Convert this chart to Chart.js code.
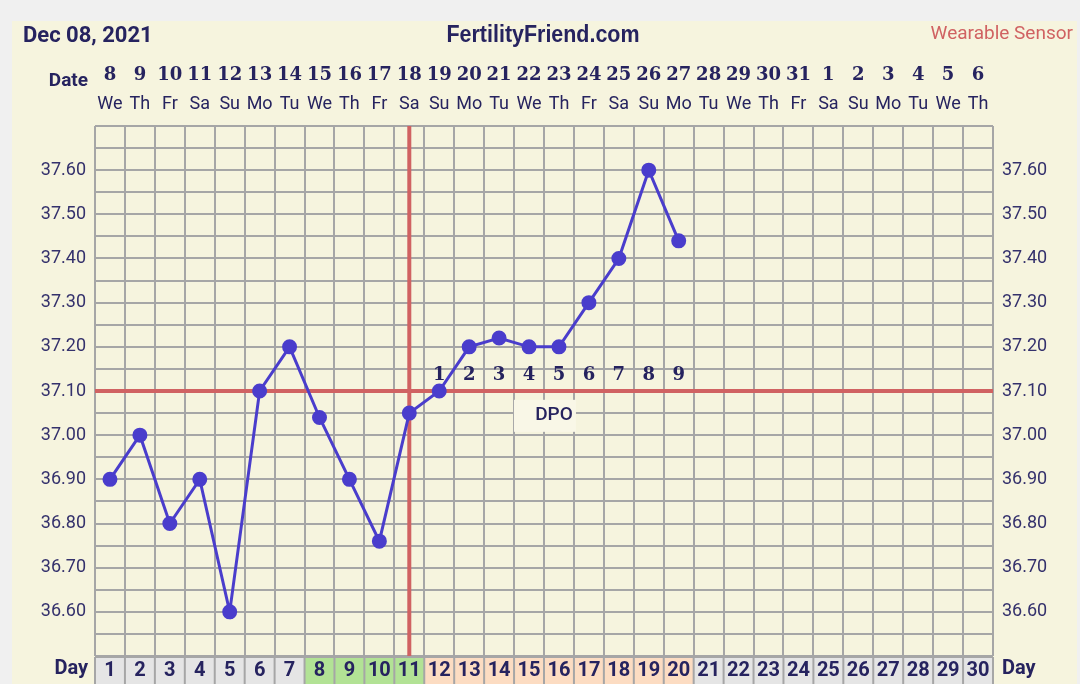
<!DOCTYPE html>
<html>
<head>
<meta charset="utf-8">
<script src="https://cdn.jsdelivr.net/npm/chart.js"></script>
<style>
  html, body { margin: 0; padding: 0; background: #f0f0f0; }
  canvas { display: block; }
</style>
</head>
<body>
<canvas id="bbt" width="1080" height="684"></canvas>
<script>
// cycle days, calendar dates and weekdays shown along the chart
const cycleDays = ['1','2','3','4','5','6','7','8','9','10','11','12','13','14','15',
  '16','17','18','19','20','21','22','23','24','25','26','27','28','29','30'];
const dateLabels = ['8','9','10','11','12','13','14','15','16','17','18','19','20','21','22',
  '23','24','25','26','27','28','29','30','31','1','2','3','4','5','6'];
const weekdays = ['We','Th','Fr','Sa','Su','Mo','Tu','We','Th','Fr','Sa','Su','Mo','Tu','We',
  'Th','Fr','Sa','Su','Mo','Tu','We','Th','Fr','Sa','Su','Mo','Tu','We','Th'];

// temperatures (°C), days 1-20
const temps = [36.90, 37.00, 36.80, 36.90, 36.60, 37.10, 37.20, 37.04, 36.90, 36.76,
  37.05, 37.10, 37.20, 37.22, 37.20, 37.20, 37.30, 37.40, 37.60, 37.44];

const coverline = 37.10;
const ovulationDay = '11';
const dpoDays = ['12','13','14','15','16','17','18','19','20'];
const dpoLabels = ['1','2','3','4','5','6','7','8','9'];
const fertileDays = ['8','9','10','11'];
const lutealDays = ['12','13','14','15','16','17','18','19','20'];

const tempMin = 36.5;
const tempMax = 37.7;

const INK = '#26235f';
const RED = '#d06262';
const GRID = '#a6a6a6';
const CREAM = '#f6f4de';

function tempLabel(value) {
  const v = Math.round(value * 100);
  const lo = Math.round(tempMin * 100), hi = Math.round(tempMax * 100);
  if (v % 10 !== 0 || v <= lo || v >= hi) return '';
  return (v / 100).toFixed(2);
}

const decorPlugin = {
  id: 'decor',
  beforeDraw(chart) {
    const ctx = chart.ctx;
    ctx.save();
    ctx.fillStyle = '#f0f0f0';
    ctx.fillRect(0, 0, chart.width, chart.height);
    ctx.fillStyle = CREAM;
    ctx.fillRect(12, 21, 1065, chart.height - 21);
    ctx.restore();
  },
  beforeDatasetsDraw(chart) {
    const { ctx, chartArea: a, scales } = chart;
    const x = scales.x, y = scales.y;
    ctx.save();

    // DPO box
    const dpoX = x.getPixelForValue(15) - 5;
    ctx.fillStyle = '#f9f7e7';
    ctx.fillRect(dpoX - 40, y.getPixelForValue(37.08), 62, 32);
    ctx.fillStyle = INK;
    ctx.font = '500 19px Roboto';
    ctx.textAlign = 'center';
    ctx.textBaseline = 'middle';
    ctx.fillText('DPO', dpoX, y.getPixelForValue(37.045));

    // coverline
    ctx.strokeStyle = RED;
    ctx.lineWidth = 4;
    const cy = y.getPixelForValue(coverline);
    ctx.beginPath();
    ctx.moveTo(a.left, cy);
    ctx.lineTo(a.right, cy);
    ctx.stroke();

    // ovulation line
    const ox = x.getPixelForValue(cycleDays.indexOf(ovulationDay));
    ctx.beginPath();
    ctx.moveTo(ox, a.top);
    ctx.lineTo(ox, a.bottom);
    ctx.stroke();

    // DPO numbers
    ctx.fillStyle = INK;
    ctx.font = 'bold 18px "DejaVu Serif"';
    dpoDays.forEach((d, i) => {
      ctx.fillText(dpoLabels[i], x.getPixelForValue(cycleDays.indexOf(d)), cy - 16);
    });
    ctx.restore();
  },
  afterDraw(chart) {
    const { ctx, chartArea: a, scales } = chart;
    const x = scales.x;
    ctx.save();
    ctx.textAlign = 'center';
    ctx.textBaseline = 'middle';

    // header
    ctx.fillStyle = INK;
    ctx.font = 'bold 22px Roboto';
    ctx.textAlign = 'left';
    ctx.fillText('Dec 08, 2021', 23, 36);
    ctx.font = 'bold 23px "Liberation Sans"';
    ctx.textAlign = 'center';
    ctx.fillText('FertilityFriend.com', 543, 36, 193);
    ctx.fillStyle = RED;
    ctx.font = '19px Roboto';
    ctx.textAlign = 'right';
    ctx.fillText('Wearable Sensor', 1073, 34);

    // date rows
    ctx.fillStyle = INK;
    ctx.font = 'bold 19px Roboto';
    ctx.fillText('Date', 88, 81, 42);
    ctx.textAlign = 'center';
    cycleDays.forEach((d, i) => {
      const px = x.getPixelForValue(i);
      ctx.font = 'bold 18px "DejaVu Serif"';
      ctx.fillText(dateLabels[i], px, 75, 28);
      ctx.font = '18px Roboto';
      ctx.fillText(weekdays[i], px, 104);
    });

    // day row
    const step = x.getPixelForValue(1) - x.getPixelForValue(0);
    const top = a.bottom + 1;
    ctx.fillStyle = GRID;
    ctx.fillRect(a.left - 1, top, a.right - a.left + 2, chart.height - top);
    cycleDays.forEach((d, i) => {
      const px = x.getPixelForValue(i);
      ctx.fillStyle = fertileDays.includes(d) ? '#b2e295'
        : lutealDays.includes(d) ? '#fcdcc2' : '#e5e5e5';
      ctx.fillRect(px - step / 2 + 1, top + 1, step - 2, chart.height - top);
      ctx.fillStyle = INK;
      ctx.font = 'bold 20px Roboto';
      ctx.fillText(d, px, 671, step - 4);
    });
    ctx.font = 'bold 20px Roboto';
    ctx.textAlign = 'right';
    ctx.fillText('Day', 88, 669, 36);
    ctx.textAlign = 'left';
    ctx.fillText('Day', 1002, 669, 36);
    ctx.restore();
  }
};

new Chart(document.getElementById('bbt'), {
  type: 'line',
  data: {
    labels: cycleDays,
    datasets: [{
      data: temps,
      borderColor: '#4a3dcc',
      backgroundColor: '#4a3dcc',
      borderWidth: 3,
      pointRadius: 6,
      pointHoverRadius: 6,
      tension: 0
    }]
  },
  options: {
    responsive: false,
    animation: false,
    devicePixelRatio: 1,
    layout: { padding: { left: 12, right: 0, top: 126, bottom: 28 } },
    plugins: { legend: { display: false }, tooltip: { enabled: false } },
    scales: {
      x: {
        type: 'category',
        offset: true,
        grid: { offset: true, color: GRID, lineWidth: 2, drawTicks: false },
        border: { display: false },
        ticks: { display: false },
        afterFit: s => { s.height = 0; }
      },
      y: {
        position: 'left',
        min: tempMin,
        max: tempMax,
        grid: { color: GRID, lineWidth: 2, drawTicks: false },
        border: { display: false },
        ticks: {
          stepSize: 0.05,
          autoSkip: false,
          padding: 9,
          color: '#34316c',
          font: { family: 'Roboto', size: 18 },
          callback: tempLabel
        },
        afterFit: s => { s.width = 83; }
      },
      y2: {
        position: 'right',
        min: tempMin,
        max: tempMax,
        grid: { display: false },
        border: { display: false },
        ticks: {
          stepSize: 0.05,
          autoSkip: false,
          padding: 1,
          color: '#34316c',
          font: { family: 'Roboto', size: 18 },
          callback: tempLabel
        },
        afterFit: s => { s.width = 87; }
      }
    }
  },
  plugins: [decorPlugin]
});
</script>
</body>
</html>
